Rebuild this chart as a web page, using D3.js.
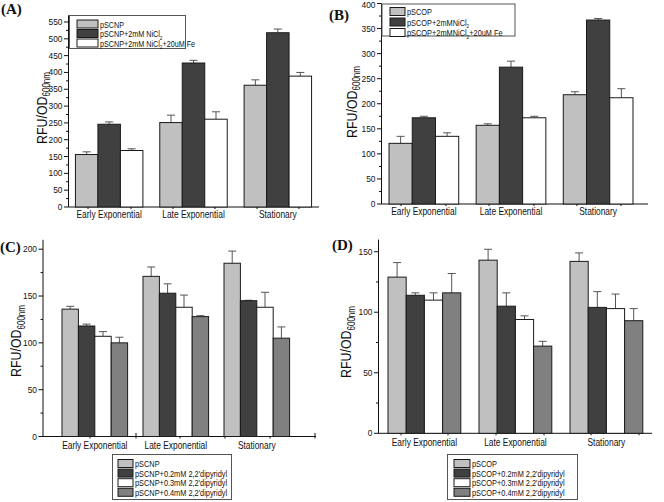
<!DOCTYPE html>
<html><head><meta charset="utf-8">
<script src="https://cdn.jsdelivr.net/npm/d3@7"></script>
<style>body{margin:0;background:#fff}svg{display:block}</style>
</head><body>
<svg id="chart" width="664" height="502"></svg>
<script>
// ---------- DATA ----------
const categories = ["Early Exponential", "Late Exponential", "Stationary"];

const seriesA = ["pSCNP", "pSCNP+2mM NiCl|2", "pSCNP+2mM NiCl|2|+20uM Fe"];
const valuesA = [[156, 251, 362], [246, 428, 518], [168, 261, 389]];
const errorsA = [[8, 22, 16], [7, 8, 11], [5, 22, 11]];
const yTicksA = [0, 50, 100, 150, 200, 250, 300, 350, 400, 450, 500, 550];

const seriesB = ["pSCOP", "pSCOP+2mMNiCl|2", "pSCOP+2mMNiCl|2|+20uM Fe"];
const valuesB = [[121, 157, 218], [172, 273, 367], [135, 172, 212]];
const errorsB = [[14, 3, 6], [3, 12, 3], [7, 3, 18]];
const yTicksB = [0, 50, 100, 150, 200, 250, 300, 350, 400];

const seriesC = ["pSCNP", "pSCNP+0.2mM 2,2'dipyridyl", "pSCNP+0.3mM 2,2'dipyridyl", "pSCNP+0.4mM 2,2'dipyridyl"];
const valuesC = [[136, 171, 185], [118, 153, 145], [107, 138, 138], [100, 128, 105]];
const errorsC = [[3, 10, 13], [2, 10, 0.5], [5, 13, 16], [6, 1, 12]];
const yTicksC = [0, 50, 100, 150, 200];

const seriesD = ["pSCOP", "pSCOP+0.2mM 2,2'dipyridyl", "pSCOP+0.3mM 2,2'dipyridyl", "pSCOP+0.4mM 2,2'dipyridyl"];
const valuesD = [[129, 143, 142], [114, 105, 104], [110, 94, 103], [116, 72, 93]];
const errorsD = [[12, 9, 7], [2, 11, 13], [6, 3, 12], [16, 4, 10]];
const yTicksD = [0, 50, 100, 150];

const fills = ["#c0c0c0", "#404040", "#ffffff", "#808080"];

// ---------- DRAW ----------
const svg = d3.select("#chart");
const SANS = "'Liberation Sans', Arial, sans-serif";

function ctext(parent, x, y, str, size, sx, anchor) {
  const g = parent.append("g").attr("transform", `translate(${x},${y}) scale(${sx},1)`);
  const t = g.append("text").attr("font-family", SANS).attr("font-size", size)
    .attr("text-anchor", anchor || "start").attr("fill", "#111");
  const parts = str.split("|");
  parts.forEach((p, i) => {
    if (i % 2 === 1) {
      t.append("tspan").attr("font-size", size * 0.65).attr("dy", size * 0.3).text(p);
    } else {
      const ts = t.append("tspan").text(p);
      if (i > 0) ts.attr("dy", -size * 0.3);
    }
  });
  return t;
}

function panel(cfg) {
  const g = svg.append("g");
  const yMax = cfg.yMax;
  const y = d3.scaleLinear().domain([0, yMax]).range([cfg.y0, cfg.yTop]);
  const x0 = d3.scaleBand().domain(categories).range(cfg.xRange)
    .paddingInner(cfg.pi).paddingOuter(0.1);
  const x1 = d3.scaleBand().domain(d3.range(cfg.series.length)).range([0, x0.bandwidth()]);

  // axes lines
  g.append("line").attr("x1", cfg.axisX).attr("x2", cfg.axisX)
    .attr("y1", y(0)).attr("y2", y(yMax)).attr("stroke", "#111");
  g.append("line").attr("x1", cfg.axisX).attr("x2", cfg.xEnd)
    .attr("y1", y(0)).attr("y2", y(0)).attr("stroke", "#111");

  // y ticks major + minor
  const minor = d3.range(25, yMax, 50);
  g.selectAll(".mn").data(minor).enter().append("line")
    .attr("x1", cfg.axisX - 2.5).attr("x2", cfg.axisX)
    .attr("y1", d => y(d)).attr("y2", d => y(d)).attr("stroke", "#111");
  g.selectAll(".mj").data(cfg.yTicks).enter().append("line")
    .attr("x1", cfg.axisX - 4.5).attr("x2", cfg.axisX)
    .attr("y1", d => y(d)).attr("y2", d => y(d)).attr("stroke", "#111");
  cfg.yTicks.forEach(v => {
    ctext(g, cfg.axisX - 6, Math.max(y(v) + 3, 8), String(v), cfg.tickSize, 0.95, "end");
  });

  // odd x ticks
  cfg.xTicks.forEach(xt => {
    g.append("line").attr("x1", xt).attr("x2", xt)
      .attr("y1", y(0) - 3.5).attr("y2", y(0) + 2).attr("stroke", "#111");
  });

  // category labels
  categories.forEach(c => {
    ctext(g, x0(c) + x0.bandwidth() / 2, y(0) + cfg.catDy, c, cfg.catSize, 0.8, "middle");
  });

  // bars & error bars
  cfg.series.forEach((s, si) => {
    categories.forEach((c, ci) => {
      const v = cfg.values[si][ci], e = cfg.errors[si][ci];
      const bx = x0(c) + x1(si), bw = x1.bandwidth(), cx = bx + bw / 2;
      g.append("line").attr("x1", cx).attr("x2", cx)
        .attr("y1", y(v)).attr("y2", y(v + e)).attr("stroke", "#555");
      g.append("line").attr("x1", cx - 4).attr("x2", cx + 4)
        .attr("y1", y(v + e)).attr("y2", y(v + e)).attr("stroke", "#555");
      g.append("rect").attr("x", bx).attr("y", y(v))
        .attr("width", bw).attr("height", y(0) - y(v))
        .attr("fill", fills[si]).attr("stroke", "#1a1a1a").attr("stroke-width", 1);
    });
  });

  // y label
  const yl = g.append("g").attr("transform", `translate(${cfg.ylX},${cfg.ylY}) rotate(-90) scale(0.8,1)`);
  const yt = yl.append("text").attr("font-family", SANS).attr("font-size", 15.5)
    .attr("text-anchor", "middle").attr("fill", "#111");
  yt.append("tspan").text("RFU/OD");
  yt.append("tspan").attr("font-size", 10).attr("dy", 3.5).text("600nm");

  // legend
  const L = cfg.legend;
  g.append("rect").attr("x", L.x).attr("y", L.y).attr("width", L.w).attr("height", L.h)
    .attr("fill", "#fff").attr("stroke", "#555");
  cfg.series.forEach((s, si) => {
    const ry = L.y + L.top + si * L.step;
    g.append("rect").attr("x", L.sx).attr("y", ry).attr("width", L.sw).attr("height", L.sh)
      .attr("fill", fills[si]).attr("stroke", "#1a1a1a");
    ctext(g, L.sx + L.sw + 2, ry + L.sh - 0.5, s, L.fs, 0.82, "start");
  });

  // panel label
  g.append("text").attr("x", cfg.plX).attr("y", cfg.plY)
    .attr("font-family", "'Liberation Serif', 'Times New Roman', serif")
    .attr("font-weight", "bold").attr("font-size", 15).attr("fill", "#111").text(cfg.label);
}

panel({
  label: "(A)", plX: 1, plY: 14,
  series: seriesA, values: valuesA, errors: errorsA, yTicks: yTicksA,
  yMax: 570, y0: 207, yTop: 207 - 570 * 0.3364,
  xRange: [67, 320], pi: 0.2, axisX: 68.5, xEnd: 319,
  xTicks: [88, 131, 173, 215, 257, 299],
  tickSize: 8.8, catSize: 10.5, catDy: 11,
  ylX: 46.5, ylY: 108,
  legend: {x: 69.5, y: 15.5, w: 116, h: 33, top: 4.5, step: 9.5, sx: 77, sw: 21, sh: 8, fs: 8.8}
});

panel({
  label: "(B)", plX: 329, plY: 20,
  series: seriesB, values: valuesB, errors: errorsB, yTicks: yTicksB,
  yMax: 400, y0: 204, yTop: 3.5,
  xRange: [380.3, 641.7], pi: 0.2, axisX: 381.5, xEnd: 648,
  xTicks: [401, 446, 489, 534, 577, 621],
  tickSize: 8.8, catSize: 10.5, catDy: 11,
  ylX: 356.5, ylY: 102,
  legend: {x: 382, y: 4, w: 133, h: 32, top: 3.5, step: 10.5, sx: 390, sw: 15, sh: 8, fs: 9}
});

panel({
  label: "(C)", plX: 0, plY: 252,
  series: seriesC, values: valuesC, errors: errorsC, yTicks: yTicksC,
  yMax: 210, y0: 436.5, yTop: 436.5 - 210 * 0.9365,
  xRange: [53.9, 297.7], pi: 0.19, axisX: 43, xEnd: 316,
  xTicks: [90, 136, 180, 225, 270, 315],
  tickSize: 8.8, catSize: 10.5, catDy: 12.5,
  ylX: 21, ylY: 341,
  legend: {x: 112.5, y: 454.5, w: 119, h: 45, top: 5, step: 9.6, sx: 118, sw: 15, sh: 8, fs: 9}
});

panel({
  label: "(D)", plX: 332, plY: 250,
  series: seriesD, values: valuesD, errors: errorsD, yTicks: yTicksD,
  yMax: 160, y0: 433.3, yTop: 433.3 - 160 * 1.2107,
  xRange: [378.9, 651.9], pi: 0.2, axisX: 378.5, xEnd: 652,
  xTicks: [401, 448, 496, 544, 591, 639],
  tickSize: 8.8, catSize: 10.5, catDy: 12.5,
  ylX: 351, ylY: 342,
  legend: {x: 447.5, y: 454.5, w: 130, h: 45, top: 5, step: 9.6, sx: 454, sw: 16, sh: 8, fs: 9}
});
</script>
</body></html>
